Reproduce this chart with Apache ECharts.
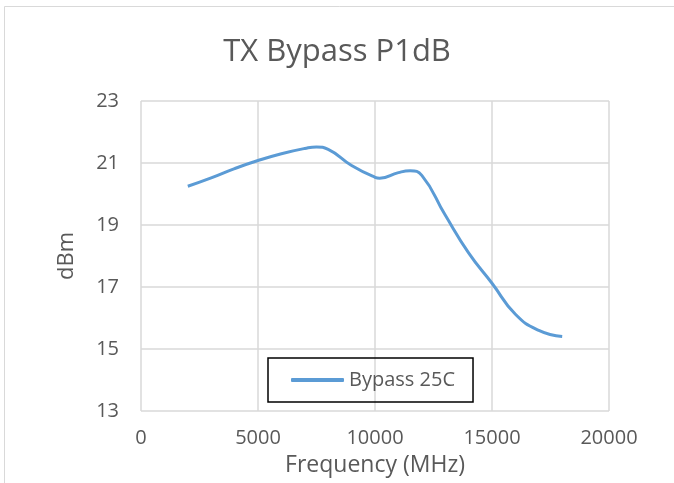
<!DOCTYPE html>
<html>
<head>
<meta charset="utf-8">
<script src="https://cdn.jsdelivr.net/npm/echarts@6/dist/echarts.min.js"></script>
<style>
  html, body { margin: 0; padding: 0; background: #fff; }
  #chart { width: 674px; height: 483px; }
</style>
</head>
<body>
<div id="chart"></div>
<script>
// frequency in MHz, P1dB in dBm
const freqs = [2000, 3000, 4000, 5000, 6000, 7000, 7500, 8000, 9000, 10000, 10200, 11000, 11500, 12000, 13000, 14000, 15000, 16000, 17000, 18000];
const bypass25 = [20.25, 20.52, 20.82, 21.08, 21.3, 21.47, 21.52, 21.44, 20.92, 20.54, 20.51, 20.69, 20.75, 20.6, 19.32, 18.1, 17.12, 16.12, 15.6, 15.4];
const yTicks = [13, 15, 17, 19, 21, 23];

const chart = echarts.init(document.getElementById('chart'));

const font = '"Open Sans", "Liberation Sans", sans-serif';

const option = {
  backgroundColor: '#fff',
  animation: false,
  graphic: [{
    type: 'rect',
    shape: { x: 4.5, y: 6.5, width: 700, height: 500 },
    style: { fill: 'none', stroke: '#d9d9d9', lineWidth: 1 },
    z: -1
  }],
  title: {
    text: 'TX Bypass P1dB',
    left: 'center',
    top: 32,
    textStyle: { fontFamily: font, fontSize: 31, fontWeight: 'normal', color: '#595959' }
  },
  grid: { left: 141, right: 65, top: 101, bottom: 72 },
  legend: {
    left: 268,
    top: 358,
    padding: [10, 18, 10, 23],
    borderColor: '#000',
    borderWidth: 1.5,
    icon: 'roundRect',
    itemWidth: 53,
    itemHeight: 4,
    itemGap: 5,
    textStyle: { fontFamily: font, fontSize: 20, color: '#595959', lineHeight: 24 },
    data: ['Bypass 25C']
  },
  xAxis: {
    type: 'value',
    min: 0,
    max: 20000,
    interval: 5000,
    name: 'Frequency (MHz)',
    nameLocation: 'middle',
    nameGap: 43,
    nameTextStyle: { fontFamily: font, fontSize: 23, color: '#595959' },
    axisLine: { show: false },
    axisTick: { show: false },
    axisLabel: { fontFamily: font, fontSize: 20, color: '#595959', margin: 17, formatter: v => String(v) },
    splitLine: { show: true, lineStyle: { color: '#d9d9d9', width: 1.5 } }
  },
  yAxis: {
    type: 'value',
    min: yTicks[0],
    max: yTicks[yTicks.length - 1],
    interval: 2,
    name: 'dBm',
    nameLocation: 'middle',
    nameGap: 63,
    nameTextStyle: { fontFamily: font, fontSize: 22, color: '#595959' },
    axisLine: { show: false },
    axisTick: { show: false },
    axisLabel: { fontFamily: font, fontSize: 20, color: '#595959', margin: 22 },
    splitLine: { show: true, lineStyle: { color: '#d9d9d9', width: 1.5 } }
  },
  series: [{
    name: 'Bypass 25C',
    type: 'line',
    smooth: 0.5,
    symbol: 'none',
    data: freqs.map((f, i) => [f, bypass25[i]]),
    lineStyle: { color: '#5b9bd5', width: 3 },
    itemStyle: { color: '#5b9bd5' }
  }]
};

chart.setOption(option);
</script>
</body>
</html>
